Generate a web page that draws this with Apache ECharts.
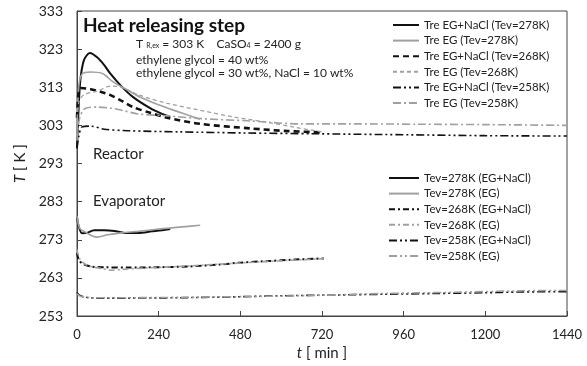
<!DOCTYPE html>
<html>
<head>
<meta charset="utf-8">
<script src="https://cdn.jsdelivr.net/npm/echarts@6/dist/echarts.min.js"></script>
<style>
  html, body { margin: 0; padding: 0; background: #fff; }
  #chart { width: 587px; height: 366px; }
</style>
</head>
<body>
<div id="chart"></div>
<script>
// time [min], temperature [K]
const xTicks = [0, 240, 480, 720, 960, 1200, 1440]
const yBase = 253
const yTop = 333

// reactor
const reNaCl278 = [[0,297],[5,308],[10,315],[20,320],[38,322],[60,320.8],[80,318.8],[97,316.7],[130,313.3],[165,310.4],[215,307.5],[250,306],[274,305.2]]
const reEG278 = [[0,300],[5,313],[15,316.5],[40,317],[75,316.6],[106,314.4],[150,312.2],[186,310.4],[240,308.4],[283,307],[342,305.2],[362,304.6]]
const reNaCl268 = [[0,305],[4,311],[10,312.8],[40,312.5],[70,311.8],[97,311],[130,309.5],[165,307.8],[215,306.3],[265,305],[362,303.4],[510,302.2],[620,301.5],[720,301.2]]
const reEG268 = [[0,303],[5,309],[20,311],[60,312],[100,313.3],[130,313],[180,311],[265,308.8],[360,307],[460,305.2],[560,303.8],[640,302.5],[720,301.3]]
const reNaCl258 = [[0,297],[5,300],[15,302.6],[40,302.8],[80,302],[150,301.6],[300,301.3],[500,301],[700,300.8],[900,300.6],[1200,300.3],[1440,300.2]]
const reEG258 = [[0,299],[8,305],[25,307.5],[60,307.8],[100,307.5],[130,307],[180,306],[265,305.5],[360,304.8],[500,304.2],[657,303.4],[800,303.4],[1000,303.3],[1200,303.2],[1440,303]]

// evaporator
const evNaCl278 = [[0,279],[5,276.5],[15,274.7],[30,274.8],[50,275.5],[80,275.5],[110,275.3],[140,274.8],[180,274.8],[220,275.2],[250,275.5],[274,275.8]]
const evEG278 = [[0,279.2],[8,276],[25,275],[45,274],[60,273.7],[90,274.3],[130,274.8],[180,275.2],[240,275.8],[300,276.3],[362,276.8]]
const evNaCl268 = [[0,269.5],[5,267.8],[15,266.8],[40,266],[80,265.8],[150,265.7],[240,265.8],[330,266],[420,266.5],[480,267],[560,267.4],[640,267.8],[725,268.1]]
const evEG268 = [[0,270.5],[8,268],[30,266.3],[70,265.5],[100,265],[130,265.2],[200,265.6],[300,266],[400,266.5],[500,267],[600,267.5],[725,268]]
const evNaCl258 = [[0,259.2],[5,258.6],[20,258],[60,257.7],[150,257.7],[300,257.8],[450,258],[600,258.3],[750,258.5],[900,258.7],[1050,258.9],[1200,259.1],[1300,259.3],[1440,259.4]]
const evEG258 = [[0,258.8],[10,258.2],[40,257.8],[150,257.8],[300,257.9],[500,258.1],[700,258.4],[900,258.9],[1100,259.2],[1300,259.6],[1440,259.7]]

const BLACK = '#111'
const GRAY = '#a0a0a0'
const FONT = 'Lato'

const styles = {
  solidK: { color: BLACK, width: 2, type: 'solid' },
  solidG: { color: GRAY, width: 1.6, type: 'solid' },
  dashK: { color: BLACK, width: 2.6, type: [6, 4] },
  dashG: { color: GRAY, width: 1.3, type: [4, 3] },
  ddotK: { color: BLACK, width: 1.6, type: [8, 3, 2, 3, 2, 3] },
  ddotG: { color: GRAY, width: 1.6, type: [8, 3, 2, 3, 2, 3] },
  dotG: { color: GRAY, width: 1.6, type: [8, 3, 2, 3] },
  dashdotK: { color: BLACK, width: 2, type: [6, 3, 2, 3] },
  dashdotG: { color: GRAY, width: 1.6, type: [6, 3, 2, 3] }
}

const seriesDefs = [
  ['Tre EG+NaCl (Tev=278K)', reNaCl278, styles.solidK],
  ['Tre EG (Tev=278K)', reEG278, styles.solidG],
  ['Tre EG+NaCl (Tev=268K)', reNaCl268, styles.dashK],
  ['Tre EG (Tev=268K)', reEG268, styles.dashG],
  ['Tre EG+NaCl (Tev=258K)', reNaCl258, styles.ddotK],
  ['Tre EG (Tev=258K)', reEG258, styles.dotG],
  ['Tev=278K (EG+NaCl)', evNaCl278, styles.solidK],
  ['Tev=278K (EG)', evEG278, styles.solidG],
  ['Tev=268K (EG+NaCl)', evNaCl268, styles.dashdotK],
  ['Tev=268K (EG)', evEG268, styles.dashdotG],
  ['Tev=258K (EG+NaCl)', evNaCl258, styles.ddotK],
  ['Tev=258K (EG)', evEG258, styles.ddotG]
]

const chart = echarts.init(document.getElementById('chart'))

const legendBase = {
  orient: 'vertical',
  padding: 0,
  itemGap: 3.6,
  itemHeight: 12,
  itemStyle: { opacity: 0 },
  textStyle: { fontFamily: FONT, fontSize: 11.5, color: '#222', lineHeight: 12 },
  selectedMode: false
}

const axisNameStyle = {
  rich: {
    i: { fontStyle: 'italic', fontSize: 15, color: '#222', fontFamily: FONT },
    n: { fontSize: 15, color: '#222', fontFamily: FONT }
  }
}

chart.setOption({
  animation: false,
  backgroundColor: '#fff',
  textStyle: { fontFamily: FONT },
  grid: {
    left: 77, right: 20, top: 11, bottom: 50,
    show: true, borderColor: '#444', borderWidth: 1
  },
  legend: [
    { ...legendBase, left: 392, top: 19, itemWidth: 26, data: seriesDefs.slice(0, 6).map(d => d[0]) },
    { ...legendBase, left: 388, top: 172, itemWidth: 30, data: seriesDefs.slice(6).map(d => d[0]) }
  ],
  xAxis: {
    type: 'value',
    min: xTicks[0],
    max: xTicks[xTicks.length - 1],
    interval: 240,
    axisLine: { lineStyle: { color: '#444' } },
    axisTick: { inside: true, length: 5, lineStyle: { color: '#444' } },
    axisLabel: { fontSize: 13, color: '#222', margin: 12, formatter: v => String(v) },
    splitLine: { show: false },
    name: '{i|t}{n| [ min ]}',
    nameLocation: 'middle',
    nameGap: 28,
    nameTextStyle: axisNameStyle
  },
  yAxis: {
    type: 'value',
    min: 0,
    max: yTop - yBase,
    interval: 10,
    axisLine: { lineStyle: { color: '#444' } },
    axisTick: { inside: true, length: 5, lineStyle: { color: '#444' } },
    axisLabel: { fontSize: 14, color: '#222', margin: 14, formatter: v => String(v + yBase) },
    splitLine: { show: false },
    name: '{i|T}{n| [ K ]}',
    nameLocation: 'middle',
    nameGap: 40,
    nameTextStyle: axisNameStyle
  },
  graphic: [
    { type: 'text', left: 83, top: 16, style: { text: 'Heat releasing step', font: 'bold 19px Lato', fill: '#111' } },
    {
      type: 'text', left: 136, top: 38,
      style: {
        text: '{n|T }{s|R,ex}{n| = 303 K    CaSO}{s|4}{n| = 2400 g}',
        rich: {
          n: { fontSize: 12, fontFamily: FONT, fill: '#222' },
          s: { fontSize: 7, fontFamily: FONT, fill: '#222', padding: [4, 0, 0, 0] }
        }
      }
    },
    { type: 'text', left: 136, top: 54, style: { text: 'ethylene glycol = 40 wt%', font: '12px Lato', fill: '#222' } },
    { type: 'text', left: 136, top: 67, style: { text: 'ethylene glycol = 30 wt%, NaCl = 10 wt%', font: '12px Lato', fill: '#222' } },
    { type: 'text', left: 93, top: 147, style: { text: 'Reactor', font: '15px Lato', fill: '#222' } },
    { type: 'text', left: 93, top: 194, style: { text: 'Evaporator', font: '15px Lato', fill: '#222' } }
  ],
  series: seriesDefs.map(([name, pts, ls]) => ({
    name,
    type: 'line',
    smooth: 0.3,
    symbol: 'none',
    data: pts.map(([t, T]) => [t, T - yBase]),
    lineStyle: ls,
    itemStyle: { color: ls.color }
  }))
})
</script>
</body>
</html>
